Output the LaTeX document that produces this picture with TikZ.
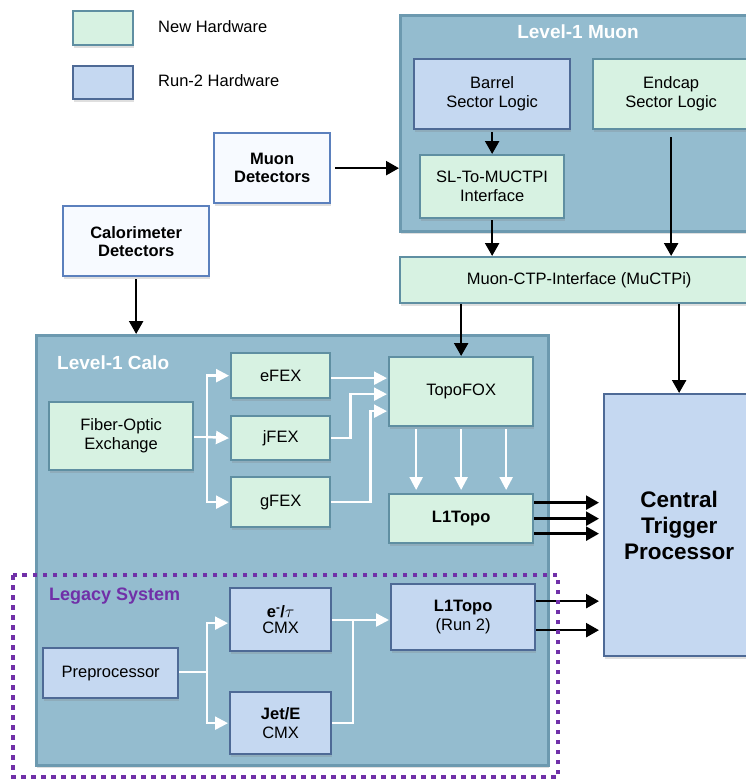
\documentclass[tikz,border=0pt]{standalone}
\usepackage{fontspec}
\setmainfont{Liberation Sans}
\usetikzlibrary{arrows.meta,shadows}
\definecolor{contf}{HTML}{94BCCF}
\definecolor{contb}{HTML}{6C99AF}
\definecolor{newf}{HTML}{D7F2E2}
\definecolor{newb}{HTML}{5F8FA2}
\definecolor{oldf}{HTML}{C5D8F1}
\definecolor{oldb}{HTML}{4E6A96}
\definecolor{detf}{HTML}{F7FAFF}
\definecolor{detb}{HTML}{5B80BD}
\definecolor{legp}{HTML}{7030A8}
\tikzset{
  shad/.style={drop shadow={shadow xshift=1pt, shadow yshift=-2.5pt, opacity=0.25}},
  box/.style={draw, line width=2.3pt, anchor=north west, inner sep=0pt, align=center,
    font=\fontsize{16.5}{19}\selectfont, shad},
  newbox/.style={box, fill=newf, draw=newb},
  oldbox/.style={box, fill=oldf, draw=oldb},
  detbox/.style={box, fill=detf, draw=detb, font=\bfseries\fontsize{16.5}{18}\selectfont},
  contbox/.style={draw=contb, fill=contf, line width=2.5pt, anchor=north west, inner sep=0pt, shad},
  blk/.style={draw=black, line width=2.4pt, -{Triangle[length=13pt,width=14pt]}},
  wht/.style={draw=white, line width=2.4pt, -{Triangle[length=13pt,width=13pt]}},
  ttl/.style={text=white, font=\bfseries\fontsize{19}{22}\selectfont, inner sep=0pt},
  legtxt/.style={anchor=west, inner sep=0pt, font=\fontsize{16.5}{19}\selectfont},
}
\begin{document}
\begin{tikzpicture}[x=1pt,y=-1pt]
\useasboundingbox (0,0) rectangle (746,780);
\clip (0,0) rectangle (746,780);

% legend
\node[newbox, minimum width=60pt, minimum height=34pt] (legn) at (72,10) {};
\node[oldbox, minimum width=60pt, minimum height=33pt] (lego) at (72,65) {};
\node[legtxt] (legnt) at (158,27) {New Hardware};
\node[legtxt] (legot) at (158,81) {Run-2 Hardware};

% Level-1 Muon
\node[contbox, minimum width=370pt, minimum height=216pt] (muonc) at (399,14) {};
\node[ttl] (muont) at (578,32) {Level-1 Muon};
\node[oldbox, minimum width=156pt, minimum height=70pt] (barrel) at (413,58) {Barrel\\Sector Logic};
\node[newbox, minimum width=156pt, minimum height=70pt] (endcap) at (592,58) {Endcap\\Sector Logic};
\node[newbox, minimum width=144pt, minimum height=63pt] (sl) at (419,154) {SL-To-MUCTPI\\Interface};

% detectors
\node[detbox, minimum width=116pt, minimum height=70pt] (muondet) at (213,132) {Muon\\Detectors};
\node[detbox, minimum width=146pt, minimum height=70pt] (calodet) at (62,205) {Calorimeter\\Detectors};

% MuCTPi
\node[newbox, minimum width=358pt, minimum height=46pt] (muctpi) at (399,256) {Muon-CTP-Interface (MuCTPi)};

% Level-1 Calo
\node[contbox, minimum width=512pt, minimum height=430pt] (caloc) at (35,334) {};
\node[ttl, anchor=west] (calot) at (57,363) {Level-1 Calo};
\node[newbox, minimum width=144pt, minimum height=68pt] (fiber) at (48,401) {Fiber-Optic\\Exchange};
\node[newbox, minimum width=99pt, minimum height=45pt] (efex) at (230,352) {eFEX};
\node[newbox, minimum width=99pt, minimum height=44pt] (jfex) at (230,415) {jFEX};
\node[newbox, minimum width=99pt, minimum height=50pt] (gfex) at (230,476) {gFEX};
\node[newbox, minimum width=144pt, minimum height=69pt] (topofox) at (388,356) {TopoFOX};
\node[newbox, minimum width=144pt, minimum height=49pt, font=\bfseries\fontsize{16.5}{19}\selectfont] (l1topo) at (388,493) {L1Topo};

% CTP
\node[oldbox, minimum width=150pt, minimum height=262pt, font=\bfseries\fontsize{22.5}{26}\selectfont] (ctp) at (603,393) {Central\\Trigger\\Processor};

% Legacy
\node[text=legp, anchor=west, inner sep=0pt, font=\bfseries\fontsize{18}{21}\selectfont] (legt) at (49,596) {Legacy System};
\node[oldbox, minimum width=101pt, minimum height=63pt] (etau) at (229,587) {\textbf{e}\textsuperscript{\textbf{-}}\textbf{/}$\tau$\\[-3pt]CMX};
\node[oldbox, minimum width=101pt, minimum height=62pt] (jete) at (229,691) {\textbf{Jet/E}\\CMX};
\node[oldbox, minimum width=135pt, minimum height=50pt] (prep) at (42,647) {Preprocessor};
\node[oldbox, minimum width=144pt, minimum height=66pt] (l1run2) at (390,583) {\textbf{L1Topo}\\(Run 2)};

% black connectors
\draw[blk] ([xshift=4pt]muondet.east) -- (muondet.east -| muonc.west);
\draw[blk] ([yshift=-2pt]barrel.south) -- (barrel.south |- sl.north);
\draw[blk] ([yshift=-1pt]sl.south) -- (sl.south |- muctpi.north);
\draw[blk] ([yshift=-7pt]endcap.south) -- (endcap.south |- muctpi.north);
\draw[blk] ([yshift=-2pt]calodet.south) -- (calodet.south |- caloc.north);
\draw[blk] (topofox.north |- muctpi.south) -- (topofox.north);
\draw[blk] (ctp.north |- muctpi.south) -- (ctp.north);
\foreach \d in {16,0,-15}
  \draw[blk, shorten >=4pt] ([yshift=\d pt]l1topo.east) -- ([yshift=\d pt]l1topo.east -| ctp.west);
\foreach \d in {16,-13}
  \draw[blk, shorten >=4pt] ([yshift=\d pt]l1run2.east) -- ([yshift=\d pt]l1run2.east -| ctp.west);

% white connectors (FEX)
\coordinate (fx) at (207,437);
\draw[wht,-] (fiber.east |- fx) -- (fx);
\draw[wht, shorten >=1pt] (fx) |- (efex.west);
\draw[wht, shorten >=1pt] (fx) -- (jfex.west);
\draw[wht, shorten >=1pt] (fx) |- (gfex.west);
\draw[wht, shorten >=1pt] ([yshift=-2.5pt]efex.east) -- ([yshift=13.5pt]topofox.west);
\draw[wht, shorten >=1pt] (jfex.east) -- ++(19,0) |- ([yshift=-2.5pt]topofox.west);
\draw[wht, shorten >=1pt] (gfex.east) -- ++(39,0) |- ([yshift=-19.5pt]topofox.west);
\foreach \d in {-45,0,45}
  \draw[wht, shorten >=3pt] ([xshift=\d pt, yshift=-2pt]topofox.south) -- ([xshift=\d pt]l1topo.north);

% white connectors (legacy)
\coordinate (px) at (207,672);
\draw[wht,-] (prep.east |- px) -- (px);
\draw[wht, shorten >=1pt] (px) |- ([yshift=-3.5pt]etau.west);
\draw[wht, shorten >=1pt] (px) |- (jete.west);
\coordinate (mx) at (353,620);
\draw[wht,-] (etau.east |- mx) -- (mx);
\draw[wht,-] (jete.east) -| (mx);
\draw[wht, shorten >=1pt] (mx) -- (mx -| l1run2.west);

% legacy dotted frame
\draw[legp, line width=4.5pt, dash pattern=on 4.5pt off 5.5pt] (13,575) rectangle (558,777);
\end{tikzpicture}
\end{document}
